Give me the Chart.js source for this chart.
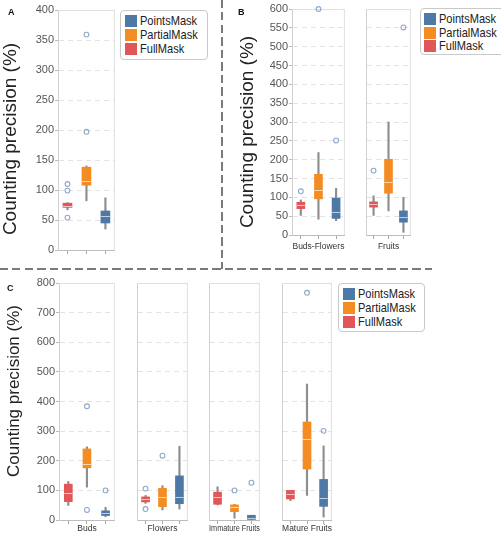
<!DOCTYPE html>
<html>
<head>
<meta charset="utf-8">
<script src="https://cdn.jsdelivr.net/npm/chart.js@4.4.1/dist/chart.umd.min.js"></script>
<style>
  html, body { margin: 0; padding: 0; background: #fff; }
  body { font-family: 'Liberation Sans', Arial, sans-serif; }
  #fig { position: relative; width: 501px; height: 534px; overflow: hidden; }
  #fig canvas { position: absolute; }
  .ytitle { position: absolute; white-space: nowrap; color: #222; transform: translate(-50%, -50%) rotate(-90deg); }
  .letter { position: absolute; font-weight: bold; font-size: 9px; line-height: 9px; color: #111; }
  .legend { position: absolute; border: 1px solid #c9c9c9; border-radius: 4px; background: #fff; box-sizing: border-box; }
  .item { position: absolute; width: 80px; height: 12px; }
  .sw { position: absolute; left: 0; top: 0; width: 12px; height: 12px; }
  .lt { position: absolute; left: 15px; top: -2px; font-size: 13px; line-height: 15px; color: #222; transform: scaleX(0.85); transform-origin: left center; white-space: nowrap; }
  .sep { position: absolute; }
</style>
</head>
<body>
<div id="fig"></div>
<script>
// categorias (máscaras) e cores
const masks = ['FullMask', 'PartialMask', 'PointsMask'];
const maskColors = ['#e15759', '#f48c24', '#4e79a7'];
const legendOrder = ['PointsMask', 'PartialMask', 'FullMask'];

// Painel A - todas as classes
const aTicks = { max: 400, step: 50 };
const aLow  = [67, 82, 35];
const aQ1   = [71, 108, 45];
const aMed  = [74, 115, 56];
const aQ3   = [78, 138, 65];
const aHigh = [79, 140, 87];
const aOut  = [[110, 99, 54], [359, 197], []];

// Painel B - Buds-Flowers / Fruits
const bTicks = { max: 600, step: 50 };
const bGroups = ['Buds-Flowers', 'Fruits'];
const bLow  = [[52, 42, 38], [52, 64, 7]];
const bQ1   = [[70, 96, 44], [74, 111, 34]];
const bMed  = [[79, 120, 61], [82, 142, 49]];
const bQ3   = [[87, 161, 98], [88, 201, 64]];
const bHigh = [[93, 219, 124], [104, 300, 100]];
const bOut  = [[[116], [600], [251]], [[171], [], [551]]];

// Painel C - quatro classes
const cTicks = { max: 800, step: 100 };
const cGroups = ['Buds', 'Flowers', 'Immature Fruits', 'Mature Fruits'];
const cLow  = [[49, 111, 11], [56, 34, 37], [51, 6, 0], [65, 83, 10]];
const cQ1   = [[62, 176, 15], [61, 45, 55], [53, 28, 0], [71, 172, 46]];
const cMed  = [[92, 190, 23], [71, 77, 76], [77, 44, 8], [87, 275, 73]];
const cQ3   = [[121, 240, 31], [78, 107, 149], [94, 51, 16], [100, 331, 137]];
const cHigh = [[130, 247, 43], [83, 116, 249], [112, 53, 16], [100, 459, 250]];
const cOut  = [[[], [384, 34], [100]], [[106, 37], [217], []], [[], [100], [126]], [[], [767], [301]]];

Chart.defaults.font.family = "'Liberation Sans', Arial, sans-serif";

const fig = document.getElementById('fig');

// moldura clara + linhas de mediana
const boxExtras = {
    id: 'boxExtras',
    beforeDatasetsDraw(chart) {
        const { ctx, chartArea: { left, right, top, bottom } } = chart;
        ctx.save();
        ctx.strokeStyle = '#e0e0e0';
        ctx.lineWidth = 1;
        ctx.beginPath();
        ctx.moveTo(left, top + 0.5);
        ctx.lineTo(right, top + 0.5);
        ctx.moveTo(right - 0.5, top);
        ctx.lineTo(right - 0.5, bottom);
        ctx.stroke();
        ctx.restore();
    },
    afterDatasetsDraw(chart, args, opts) {
        const ctx = chart.ctx;
        const y = chart.scales.y;
        const meta = chart.getDatasetMeta(1);
        ctx.save();
        ctx.strokeStyle = 'rgba(255,255,255,0.65)';
        ctx.lineWidth = 1;
        meta.data.forEach((bar, i) => {
            const py = Math.round(y.getPixelForValue(opts.medians[i])) + 0.5;
            ctx.beginPath();
            ctx.moveTo(bar.x - bar.width / 2, py);
            ctx.lineTo(bar.x + bar.width / 2, py);
            ctx.stroke();
        });
        ctx.restore();
    }
};

function boxChart(c) {
    const canvas = document.createElement('canvas');
    canvas.width = c.w;
    canvas.height = c.h;
    canvas.style.left = c.left + 'px';
    canvas.style.top = c.top + 'px';
    fig.appendChild(canvas);

    const outliers = [];
    c.out.forEach((vals, i) => vals.forEach(v => outliers.push({ x: masks[i], y: v })));
    const showY = c.yWidth > 0;

    return new Chart(canvas, {
        type: 'bar',
        data: {
            labels: masks,
            datasets: [
                {
                    label: 'whisker',
                    data: masks.map((m, i) => [c.low[i], c.high[i]]),
                    backgroundColor: '#8e8e8e',
                    barThickness: 1.5,
                    grouped: false,
                    order: 2
                },
                {
                    label: 'box',
                    data: masks.map((m, i) => [c.q1[i], c.q3[i]]),
                    backgroundColor: maskColors,
                    barThickness: c.boxW,
                    grouped: false,
                    order: 1
                },
                {
                    type: 'scatter',
                    label: 'outliers',
                    data: outliers,
                    pointRadius: 2.4,
                    pointBorderWidth: 1.1,
                    pointBorderColor: '#8fa7c9',
                    pointBackgroundColor: 'rgba(255,255,255,0)',
                    clip: false,
                    order: 0
                }
            ]
        },
        options: {
            responsive: false,
            animation: false,
            layout: { padding: { top: c.padTop, right: c.padRight, bottom: 0, left: 0 } },
            plugins: {
                legend: { display: false },
                tooltip: { enabled: false },
                boxExtras: { medians: c.med }
            },
            scales: {
                x: {
                    afterFit: s => { s.height = c.xHeight; },
                    ticks: { display: false },
                    grid: { offset: false, drawOnChartArea: false, drawTicks: true, tickLength: 4, tickColor: '#a8a8a8' },
                    border: { color: '#bdbdbd' },
                    title: {
                        display: !!c.title,
                        text: c.title || '',
                        color: '#333',
                        font: { size: 8.5 },
                        padding: { top: 0, bottom: c.titlePad || 0 }
                    }
                },
                y: {
                    min: 0,
                    max: c.ticks.max,
                    afterFit: s => { s.width = c.yWidth; },
                    ticks: { display: showY, stepSize: c.ticks.step, color: '#555', font: { size: 11 }, padding: 1 },
                    grid: { color: '#e3e3e3', drawTicks: showY, tickLength: 3, tickColor: '#bbb' },
                    border: { color: '#d0d0d0', dash: [5, 4] }
                }
            }
        },
        plugins: [boxExtras]
    });
}

// Painel A
boxChart({ left: 0, top: 0, w: 120, h: 262, yWidth: 58, padTop: 10, padRight: 2, xHeight: 12, boxW: 9,
    ticks: aTicks, low: aLow, q1: aQ1, med: aMed, q3: aQ3, high: aHigh, out: aOut });

// Painel B
const bPos = [
    { left: 235, w: 115, yWidth: 57 },
    { left: 361, w: 55, yWidth: 0 }
];
bGroups.forEach((g, k) => {
    boxChart({ left: bPos[k].left, top: 0, w: bPos[k].w, h: 256, yWidth: bPos[k].yWidth, padTop: 9, padRight: 1,
        xHeight: 21, boxW: 8, title: g, titlePad: 4, ticks: bTicks,
        low: bLow[k], q1: bQ1[k], med: bMed[k], q3: bQ3[k], high: bHigh[k], out: bOut[k] });
});

// Painel C
const cPos = [
    { left: 0, w: 120, yWidth: 59 },
    { left: 132, w: 61, yWidth: 0 },
    { left: 204, w: 61, yWidth: 0 },
    { left: 277, w: 60, yWidth: 0 }
];
cGroups.forEach((g, k) => {
    boxChart({ left: cPos[k].left, top: 270, w: cPos[k].w, h: 264, yWidth: cPos[k].yWidth, padTop: 13, padRight: 1,
        xHeight: 14, boxW: 8, title: g, titlePad: 0, ticks: cTicks,
        low: cLow[k], q1: cQ1[k], med: cMed[k], q3: cQ3[k], high: cHigh[k], out: cOut[k] });
});

// textos e legendas
function addDiv(cls, text, css) {
    const d = document.createElement('div');
    d.className = cls;
    d.textContent = text;
    Object.assign(d.style, css);
    fig.appendChild(d);
    return d;
}

function addLegend(left, top, width, height, inset, pitch) {
    const box = addDiv('legend', '', { left: left + 'px', top: top + 'px', width: width + 'px', height: height + 'px' });
    legendOrder.forEach((name, i) => {
        const it = document.createElement('div');
        it.className = 'item';
        it.style.left = inset + 'px';
        it.style.top = (4 + i * pitch) + 'px';
        it.innerHTML = `<span class="sw" style="background:${maskColors[masks.indexOf(name)]}"></span><span class="lt">${name}</span>`;
        box.appendChild(it);
    });
}

addDiv('ytitle', 'Counting precision (%)', { left: '10px', top: '139px', fontSize: '19px' });
addDiv('ytitle', 'Counting precision (%)', { left: '246.5px', top: '131.5px', fontSize: '19px' });
addDiv('ytitle', 'Counting precision (%)', { left: '14px', top: '391px', fontSize: '17px' });

addDiv('letter', 'A', { left: '8px', top: '8px' });
addDiv('letter', 'B', { left: '238px', top: '8px' });
addDiv('letter', 'C', { left: '7px', top: '284px' });

addLegend(120, 10, 88, 50, 4, 14);
addLegend(420, 8, 90, 47, 3, 13.5);
addLegend(338, 283, 87, 49, 4, 14);

// separadores tracejados
addDiv('sep', '', { left: '221px', top: '0px', width: '1.5px', height: '269px',
    background: 'repeating-linear-gradient(to bottom, #7a7a7a 0 8px, transparent 8px 12.5px)' });
addDiv('sep', '', { left: '0px', top: '268px', width: '432px', height: '1.5px',
    background: 'repeating-linear-gradient(to right, #7a7a7a 0 8px, transparent 8px 12.5px)' });
</script>
</body>
</html>
